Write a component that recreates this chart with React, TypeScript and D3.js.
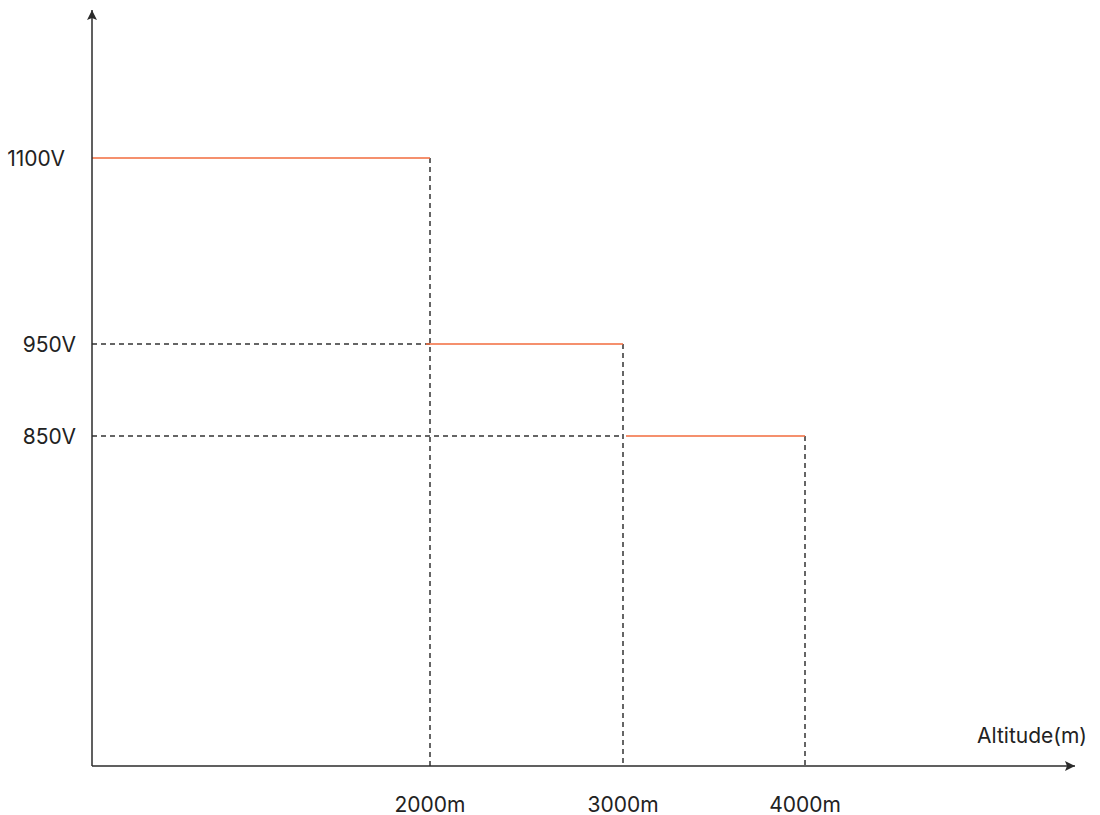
import React from "react";
import * as d3 from "d3";

const altitudes = [2000, 3000, 4000];
const altitudeLabels = ["2000m", "3000m", "4000m"];
const voltages = [1100, 950, 850];
const voltageLabels = ["1100V", "950V", "850V"];
const xAxisTitle = "Altitude(m)";

const W = 1100;
const H = 815;
const originX = 92;
const originY = 766;
const axisEndX = 1075;
const axisTopY = 10;
const FONT = "Inter, 'Noto Sans', sans-serif";
const ORANGE = "#f26b3d";
const DARK = "#2b2b2b";
const FS = 21;

// the reference axes are not to scale, so scales are piecewise
const x = d3.scaleLinear().domain([0, ...altitudes]).range([originX, 430, 623, 805]);
const y = d3.scaleLinear().domain([...voltages].reverse()).range([436, 344, 158]);
const labelRight = [65, 76, 76];

export default function App() {
  return (
    <svg width={W} height={H} style={{ position: "absolute", left: 0, top: 0, background: "#fff" }}>
      <defs>
        <marker id="arr" viewBox="0 0 10 10" refX="10" refY="5" markerWidth="10" markerHeight="10" markerUnits="userSpaceOnUse" orient="auto">
          <path d="M0,0 L10,5 L0,10 L2,5 Z" fill={DARK} />
        </marker>
      </defs>
      {/* dashed guides */}
      {altitudes.map((a, i) => (
        <line key={"v" + i} x1={x(a)} x2={x(a)} y1={y(voltages[i])} y2={originY}
          stroke="#333" strokeWidth={1.5} strokeDasharray="5,4" />
      ))}
      {voltages.map((v, i) => i > 0 ? (
        <line key={"h" + i} x1={originX} x2={x(altitudes[i - 1])} y1={y(v)} y2={y(v)}
          stroke="#333" strokeWidth={1.5} strokeDasharray="5,4" />
      ) : null)}
      {/* steps */}
      {voltages.map((v, i) => (
        <line key={"s" + i} x1={i === 0 ? originX : x(altitudes[i - 1]) + (i === 1 ? -4 : 3)} x2={x(altitudes[i])}
          y1={y(v)} y2={y(v)} stroke={ORANGE} strokeWidth={1.6} />
      ))}
      {/* axes */}
      <line x1={originX} y1={originY} x2={originX} y2={axisTopY} stroke={DARK} strokeWidth={1.5} markerEnd="url(#arr)" />
      <line x1={originX} y1={originY} x2={axisEndX} y2={originY} stroke={DARK} strokeWidth={1.5} markerEnd="url(#arr)" />
      {/* labels */}
      {voltageLabels.map((t, i) => (
        <text key={"yl" + i} x={labelRight[i]} y={y(voltages[i])} textAnchor="end" dominantBaseline="central"
          fontFamily={FONT} fontSize={FS} fill="#222">{t}</text>
      ))}
      {altitudeLabels.map((t, i) => (
        <text key={"xl" + i} x={x(altitudes[i])} y={804} textAnchor="middle" dominantBaseline="central"
          fontFamily={FONT} fontSize={FS} fill="#222">{t}</text>
      ))}
      <text x={1087} y={735} textAnchor="end" dominantBaseline="central" fontFamily={FONT} fontSize={FS} fill="#222">{xAxisTitle}</text>
    </svg>
  );
}
